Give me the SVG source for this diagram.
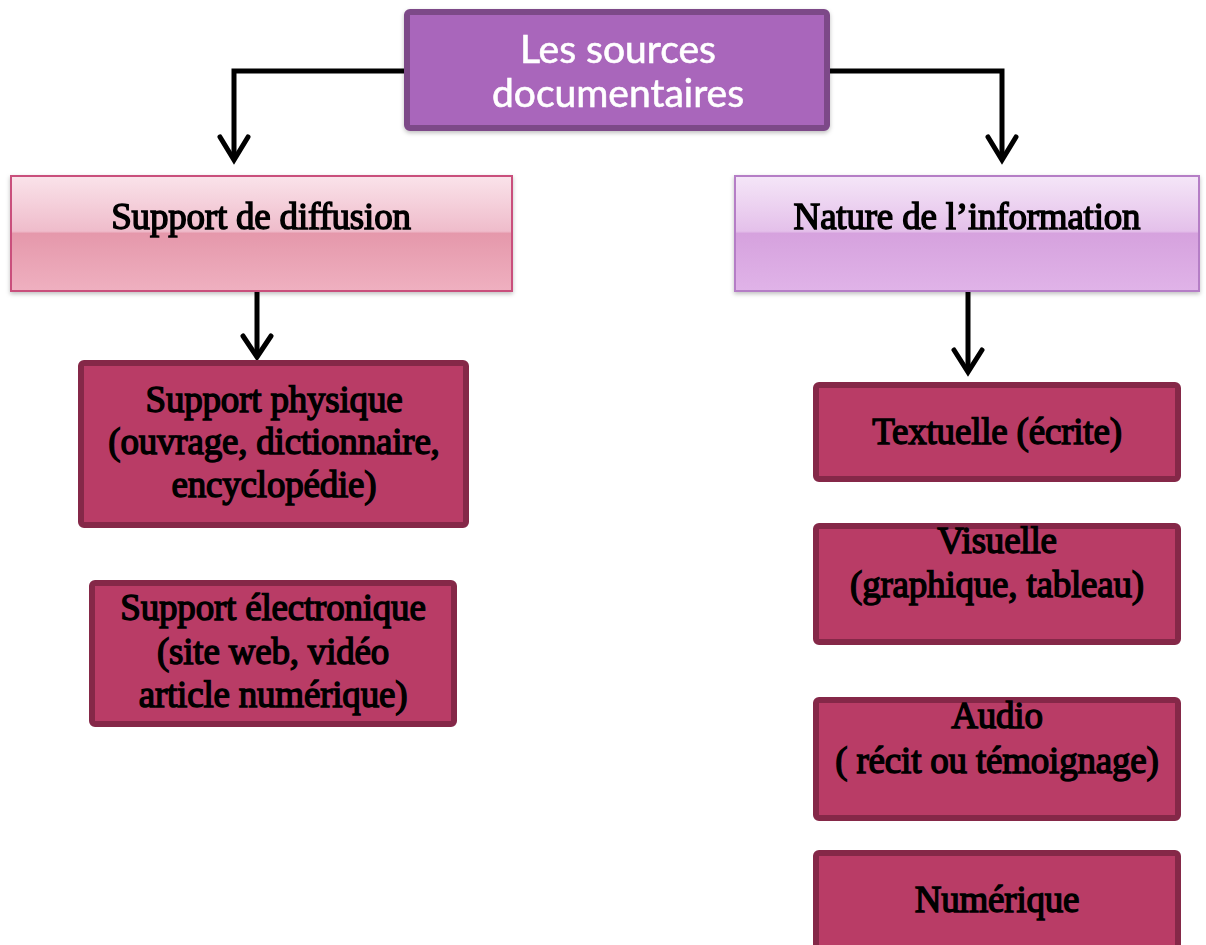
<svg xmlns="http://www.w3.org/2000/svg" width="1206" height="945" viewBox="0 0 1206 945">
  <defs>
    <linearGradient id="gPink" x1="0" y1="0" x2="0" y2="1">
      <stop offset="0" stop-color="#fae3ea"/>
      <stop offset="0.48" stop-color="#efbccb"/>
      <stop offset="0.5" stop-color="#e598ab"/>
      <stop offset="1" stop-color="#efb0c0"/>
    </linearGradient>
    <linearGradient id="gLilac" x1="0" y1="0" x2="0" y2="1">
      <stop offset="0" stop-color="#f5e6f8"/>
      <stop offset="0.48" stop-color="#e4c0ea"/>
      <stop offset="0.5" stop-color="#d6a2de"/>
      <stop offset="1" stop-color="#e0b3e8"/>
    </linearGradient>
    <filter id="sh" x="-5%" y="-5%" width="110%" height="115%">
      <feDropShadow dx="0" dy="2" stdDeviation="2" flood-color="#000" flood-opacity="0.25"/>
    </filter>
  </defs>
  <style>
    .dark { fill: #b93c66; stroke: #852848; stroke-width: 6; }
    .lbl { font-family: "Liberation Serif", "Times New Roman", serif; font-size: 37px; fill: #000; stroke: #000; stroke-width: 1.4; text-anchor: middle; letter-spacing: -0.2px; }
    .top { font-family: Lato, "Open Sans", sans-serif; font-size: 39px; fill: #fff; stroke: #fff; stroke-width: 0.6; text-anchor: middle; }
    .conn { fill: none; stroke: #000; stroke-width: 5; stroke-linejoin: miter; }
    .head { fill: none; stroke: #000; stroke-width: 5; stroke-linecap: round; stroke-linejoin: miter; }
  </style>

  <g id="connectors">
    <polyline class="conn" points="407,71 234,71 234,160"/>
    <polyline class="head" points="220,137 234,160 248,137"/>
    <polyline class="conn" points="827,71 1002,71 1002,160"/>
    <polyline class="head" points="988,137 1002,160 1016,137"/>
    <line class="conn" x1="257" y1="292" x2="257" y2="357"/>
    <polyline class="head" points="243,336 257,357 271,336"/>
    <line class="conn" x1="968" y1="292" x2="968" y2="372"/>
    <polyline class="head" points="954,350 968,372 982,350"/>
  </g>

  <g id="root" filter="url(#sh)">
    <rect x="407" y="12" width="420" height="116" rx="3" fill="#a966bb" stroke="#7d4888" stroke-width="6"/>
    <text class="top" x="618" y="63">Les sources</text>
    <text class="top" x="618" y="107">documentaires</text>
  </g>

  <g id="support-diffusion" filter="url(#sh)">
    <rect x="11" y="176" width="501" height="115" fill="url(#gPink)" stroke="#c9507b" stroke-width="2"/>
    <text class="lbl" x="261" y="229">Support de diffusion</text>
  </g>

  <g id="nature-information" filter="url(#sh)">
    <rect x="735" y="176" width="464" height="115" fill="url(#gLilac)" stroke="#b57ec6" stroke-width="2"/>
    <text class="lbl" x="967" y="229">Nature de l’information</text>
  </g>

  <g id="support-physique">
    <rect class="dark" x="81" y="363" width="385" height="162" rx="3"/>
    <text class="lbl" x="274" y="412">Support physique</text>
    <text class="lbl" x="274" y="454">(ouvrage, dictionnaire,</text>
    <text class="lbl" x="274" y="497">encyclopédie)</text>
  </g>

  <g id="support-electronique">
    <rect class="dark" x="92" y="583" width="362" height="141" rx="3"/>
    <text class="lbl" x="273" y="620">Support électronique</text>
    <text class="lbl" x="273" y="664">(site web, vidéo</text>
    <text class="lbl" x="273" y="707">article numérique)</text>
  </g>

  <g id="textuelle">
    <rect class="dark" x="816" y="385" width="362" height="94" rx="3"/>
    <text class="lbl" x="997" y="444">Textuelle (écrite)</text>
  </g>

  <g id="visuelle">
    <rect class="dark" x="816" y="526" width="362" height="116" rx="3"/>
    <text class="lbl" x="997" y="553">Visuelle</text>
    <text class="lbl" x="997" y="597">(graphique, tableau)</text>
  </g>

  <g id="audio">
    <rect class="dark" x="816" y="700" width="362" height="118" rx="3"/>
    <text class="lbl" x="997" y="728">Audio</text>
    <text class="lbl" x="997" y="773">( récit ou témoignage)</text>
  </g>

  <g id="numerique">
    <rect class="dark" x="816" y="853" width="362" height="100" rx="3"/>
    <text class="lbl" x="997" y="912">Numérique</text>
  </g>
</svg>
